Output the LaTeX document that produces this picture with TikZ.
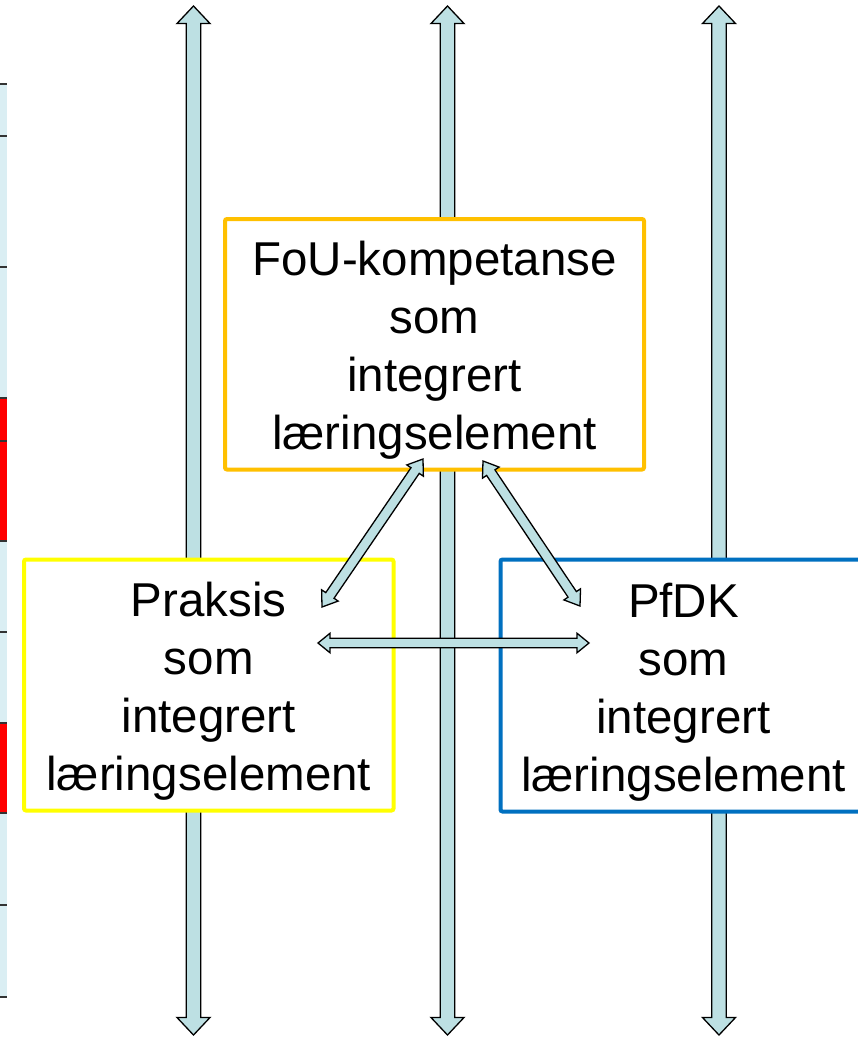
\documentclass[tikz,border=0pt]{standalone}
\usepackage{fontspec}
\setmainfont{Liberation Sans}
\usetikzlibrary{calc}
\definecolor{arrfill}{HTML}{BDE0E3}
\definecolor{stripblue}{HTML}{DAEEF3}
\definecolor{fouorange}{HTML}{FFC000}
\definecolor{praksisyellow}{HTML}{FFFF00}
\definecolor{pfdkblue}{HTML}{0070C0}
\definecolor{gridline}{HTML}{333333}
\tikzset{
  arr/.style={fill=arrfill, draw=black, line width=1.3pt, line join=miter},
  learnbox/.style={draw, fill=white, line width=4pt, rounded corners=2pt,
    align=center, inner sep=0pt,
    font=\fontsize{47.5}{58}\selectfont},
  gridrule/.style={draw=gridline, line width=1.5pt}
}
\newcommand\topstrut{\rule{0pt}{47pt}}
% #1 end A, #2 end B, #3 shaft half width, #4 head half width, #5 head length
\newcommand\dblarrow[5]{%
  \filldraw[arr] (#1)
    -- ($(#1)!#5!(#2)!#4!90:(#2)$)
    -- ($(#1)!#5!(#2)!#3!90:(#2)$)
    -- ($(#2)!#5!(#1)!#3!-90:(#1)$)
    -- ($(#2)!#5!(#1)!#4!-90:(#1)$)
    -- (#2)
    -- ($(#2)!#5!(#1)!#4!90:(#1)$)
    -- ($(#2)!#5!(#1)!#3!90:(#1)$)
    -- ($(#1)!#5!(#2)!#3!-90:(#2)$)
    -- ($(#1)!#5!(#2)!#4!-90:(#2)$)
    -- cycle;}
\begin{document}
\begin{tikzpicture}[x=1pt,y=-1pt]
\useasboundingbox (0,0) rectangle (858,1037);
\fill[white] (0,0) rectangle (858,1037);

% left strip (partial table)
\fill[stripblue] (0,84) rectangle (7,997);
\fill[red] (0,398) rectangle (7,541);
\fill[red] (0,723) rectangle (7,813);
\foreach \yy in {84,136,267,398,441,541,632,723,813,905,997}
  \draw[gridrule] (0,\yy) -- (7,\yy);

% vertical double arrows
\coordinate (v1t) at (193.5,6);   \coordinate (v1b) at (193.5,1035);
\coordinate (v2t) at (447.5,6);   \coordinate (v2b) at (447.5,1035);
\coordinate (v3t) at (719,6);     \coordinate (v3b) at (719,1035);
\dblarrow{v1t}{v1b}{7.25pt}{16.5pt}{17.5pt}
\dblarrow{v2t}{v2b}{7.25pt}{16.5pt}{17.5pt}
\dblarrow{v3t}{v3b}{7.25pt}{16.5pt}{17.5pt}

% boxes
\node[learnbox, draw=fouorange, minimum width=419pt, minimum height=250.5pt]
  (fou) at (434.5,344.25) {\topstrut FoU-kompetanse\\som\\integrert\\læringselement};
\node[learnbox, draw=praksisyellow, minimum width=369.5pt, minimum height=251pt]
  (praksis) at (208.75,685) {\topstrut Praksis\\som\\integrert\\læringselement};
\node[learnbox, draw=pfdkblue, minimum width=366pt, minimum height=252pt]
  (pfdk) at (683.5,685.5) {\topstrut PfDK\\som\\integrert\\læringselement};

% connecting double arrows
\coordinate (dLa) at (322,607);  \coordinate (dLb) at (423,459);
\coordinate (dRa) at (483,461);  \coordinate (dRb) at (580,606);
\coordinate (hL) at (318,643);   \coordinate (hR) at (589,643);
\dblarrow{dLa}{dLb}{5pt}{10pt}{14pt}
\dblarrow{dRa}{dRb}{5pt}{10pt}{14pt}
\dblarrow{hL}{hR}{4.75pt}{9.75pt}{12pt}
\end{tikzpicture}
\end{document}
